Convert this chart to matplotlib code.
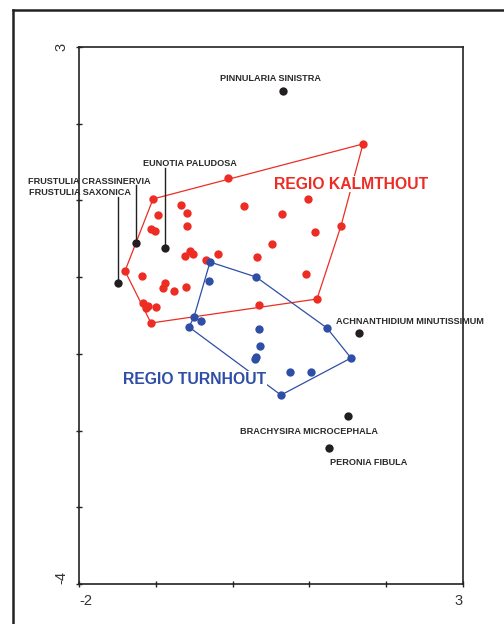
import matplotlib
matplotlib.use('Agg')
import matplotlib.pyplot as plt
from matplotlib.lines import Line2D
import numpy as np

plt.rcParams['font.family'] = ['Liberation Sans', 'DejaVu Sans']

# samples, regio Kalmthout
kalm_x = [1.698, -0.060, -1.036, -0.971, -0.672, -0.594, -0.594, -1.063, -1.010, 0.148,
          0.643, 0.982, 1.073, 1.411, 0.513, 0.318, 0.956, 1.099, 0.344, -0.190,
          -0.620, -0.555, -0.516, -0.346, -1.401, -1.180, -0.880, -0.906, -0.763, -0.607,
          -1.167, -1.102, -0.997, -1.128, -1.063]
kalm_y = [1.736, 1.292, 1.019, 0.810, 0.940, 0.836, 0.667, 0.627, 0.601, 0.927,
          0.823, 1.019, 0.588, 0.667, 0.432, 0.262, 0.041, -0.285, -0.363, 0.302,
          0.276, 0.341, 0.302, 0.223, 0.080, 0.015, -0.077, -0.142, -0.181, -0.129,
          -0.337, -0.376, -0.389, -0.402, -0.598]
kalm_hull = [34, 24, 2, 0, 13, 17, 34]

# samples, regio Turnhout
turn_x = [-0.294, 0.305, -0.307, -0.503, -0.411, -0.568, 1.229, 0.344, 0.357, 0.305,
          0.292, 1.542, 0.747, 1.021, 0.630]
turn_y = [0.197, 0.002, -0.050, -0.520, -0.572, -0.650, -0.663, -0.676, -0.898, -1.041,
          -1.067, -1.054, -1.237, -1.237, -1.537]
turn_hull = [0, 1, 6, 11, 14, 5, 3, 0]

# species
species = ['PINNULARIA SINISTRA', 'EUNOTIA PALUDOSA', 'FRUSTULIA CRASSINERVIA',
           'FRUSTULIA SAXONICA', 'ACHNANTHIDIUM MINUTISSIMUM',
           'BRACHYSIRA MICROCEPHALA', 'PERONIA FIBULA']
sp_x = [0.656, -0.880, -1.258, -1.492, 1.646, 1.503, 1.255]
sp_y = [2.426, 0.380, 0.445, -0.077, -0.728, -1.810, -2.227]

RED = '#ed2d24'
BLUE = '#2f4fa6'
BLACK = '#231f20'

fig = plt.figure(figsize=(5.04, 6.24), dpi=100)
ax = fig.add_axes([79/504, 1-584/624, (463-79)/504, (584-47)/624])

kx, ky = np.array(kalm_x), np.array(kalm_y)
tx, ty = np.array(turn_x), np.array(turn_y)
ax.plot(kx[kalm_hull], ky[kalm_hull], color=RED, lw=0.9, zorder=2)
ax.plot(kx, ky, 'o', color=RED, ms=6, mec='none', zorder=3)
ax.plot(tx[turn_hull], ty[turn_hull], color=BLUE, lw=0.9, zorder=4)
ax.plot(tx, ty, 'o', color=BLUE, ms=6, mec='none', zorder=5)
ax.plot(sp_x, sp_y, 'o', color=BLACK, ms=6, mec='none', zorder=6)

# label positions (data coords) and alignments
lab_pos = [(0.50, 2.583, 'center'), (-1.167, 1.475, 'left'), (-2.664, 1.253, 'left'),
           (-2.651, 1.097, 'left'), (1.346, -0.572, 'left'), (0.096, -2.006, 'left'),
           (1.268, -2.410, 'left')]
for name, (lx, ly, ha) in zip(species, lab_pos):
    ax.text(lx, ly, name, fontsize=6.6, fontweight='bold', color='#2a2a2a',
            ha=ha, va='center', zorder=7, clip_on=False)

# leader lines for the crowded labels
for i, ytop in [(1, 1.423), (2, 1.201), (3, 1.045)]:
    ax.plot([sp_x[i], sp_x[i]], [ytop, sp_y[i]], color=BLACK, lw=1.0, zorder=6,
            clip_on=False)

ax.text(0.539, 1.214, 'REGIO KALMTHOUT', fontsize=11.3, fontweight='bold', color=RED,
        ha='left', va='center', zorder=8,
        bbox=dict(facecolor='white', edgecolor='none', pad=0.5))
ax.text(-1.427, -1.328, 'REGIO TURNHOUT', fontsize=11.3, fontweight='bold', color=BLUE,
        ha='left', va='center', zorder=8,
        bbox=dict(facecolor='white', edgecolor='none', pad=0.5))

ax.set_xlim(-2, 3)
ax.set_ylim(-4, 3)
ax.set_xticks(np.arange(-2, 4, 1))
ax.set_yticks(np.arange(-4, 4, 1))
ax.set_xticklabels(['-2', '', '', '', '', '3'])
ax.set_yticklabels(['-4', '', '', '', '', '', '', '3'], rotation=90)
ax.tick_params(direction='inout', length=5, width=1.0, colors='#222222',
               labelsize=10.5, labelcolor='#333333')
ax.tick_params(axis='x', pad=5)
ax.tick_params(axis='y', pad=5)
xl = ax.get_xticklabels()
xl[0].set_ha('left')
xl[-1].set_ha('right')
yl = ax.get_yticklabels()
yl[0].set_va('bottom')
yl[-1].set_va('center')
for s in ax.spines.values():
    s.set_linewidth(1.2)
    s.set_color('#222222')

# outer frame of the page figure
fig.add_artist(Line2D([13/504, 13/504], [0, 1-10/624], transform=fig.transFigure,
                      color='#222222', lw=1.8))
fig.add_artist(Line2D([13/504, 1], [1-10/624, 1-10/624], transform=fig.transFigure,
                      color='#222222', lw=1.8))

fig.savefig('out.png', dpi=100)
